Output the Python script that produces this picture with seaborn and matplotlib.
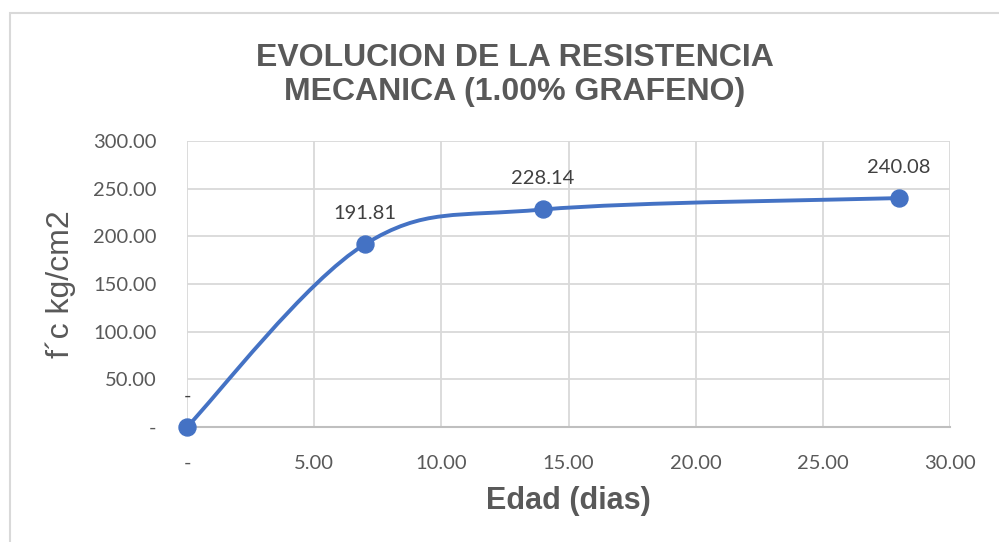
import numpy as np
import pandas as pd
import seaborn as sns
import matplotlib.pyplot as plt
from matplotlib.path import Path
from matplotlib.patches import PathPatch, Rectangle
from matplotlib.ticker import FuncFormatter

# datos
edad = [0, 7, 14, 28]
resistencia = [0.0, 191.81, 228.14, 240.08]
etiquetas = ['-', '191.81', '228.14', '240.08']

df = pd.DataFrame({'edad': edad, 'fc': resistencia})

sns.set_style('white')
plt.rcParams['font.family'] = ['Lato', 'DejaVu Sans']

fig = plt.figure(figsize=(9.99, 5.42), dpi=100)
ax = fig.add_axes([0.1872, 0.2122, 0.951 - 0.1872, 0.7399 - 0.2122])

azul = '#4472C4'
gris = '#595959'

# linea suavizada tipo Excel (bezier entre puntos)
pts = np.column_stack([edad, resistencia])
n = len(pts)
verts = [tuple(pts[0])]
codes = [Path.MOVETO]
for i in range(n - 1):
    p0 = pts[max(i - 1, 0)]
    p1 = pts[i]
    p2 = pts[i + 1]
    p3 = pts[min(i + 2, n - 1)]
    c1 = p1 + (p2 - p0) / 6
    c2 = p2 - (p3 - p1) / 6
    verts += [tuple(c1), tuple(c2), tuple(p2)]
    codes += [Path.CURVE4] * 3
ax.add_patch(PathPatch(Path(verts, codes), facecolor='none', edgecolor=azul,
                       lw=2.8, capstyle='round', zorder=3, clip_on=False))

sns.scatterplot(data=df, x='edad', y='fc', ax=ax, color=azul, s=150,
                edgecolor=azul, zorder=4, clip_on=False, legend=False)

for x, y, t in zip(edad, resistencia, etiquetas):
    ax.annotate(t, (x, y), xytext=(0, 16), textcoords='offset points',
                ha='center', va='bottom', fontsize=14.5, color='#404040')

ax.set_xlim(0, 30)
ax.set_ylim(0, 300)
ax.set_xticks(np.arange(0, 31, 5))
ax.set_yticks(np.arange(0, 301, 50))
fmt = FuncFormatter(lambda v, p: '-' if v == 0 else f'{v:.2f}')
ax.xaxis.set_major_formatter(fmt)
ax.yaxis.set_major_formatter(fmt)
ax.tick_params(axis='both', length=0, labelsize=14.5, colors=gris)
ax.tick_params(axis='x', pad=20)
ax.tick_params(axis='y', pad=22)

ax.grid(True, color='#D9D9D9', lw=1.3)
ax.set_axisbelow(True)
for s in ['top', 'right', 'left']:
    ax.spines[s].set_visible(False)
ax.spines['bottom'].set_color('#BFBFBF')
ax.spines['bottom'].set_linewidth(1.5)

ax.set_xlabel('Edad (dias)', fontsize=22, fontweight='bold', color=gris,
              family=['Liberation Sans', 'DejaVu Sans'], labelpad=10)
ax.set_ylabel('f´c kg/cm2', fontsize=23, color=gris,
              family=['Liberation Sans', 'DejaVu Sans'], labelpad=12)

fig.text(0.515, 0.862, 'EVOLUCION DE LA RESISTENCIA\nMECANICA (1.00% GRAFENO)',
         ha='center', va='center', fontsize=23, fontweight='bold', color=gris,
         family=['Liberation Sans', 'DejaVu Sans'], linespacing=1.15)

# borde del grafico
fig.add_artist(Rectangle((10 / 999, -0.1), 1.2, 1.1 - 13 / 542, transform=fig.transFigure,
                         facecolor='none', edgecolor='#D9D9D9', lw=1.5))

fig.savefig('out.png', dpi=100)
